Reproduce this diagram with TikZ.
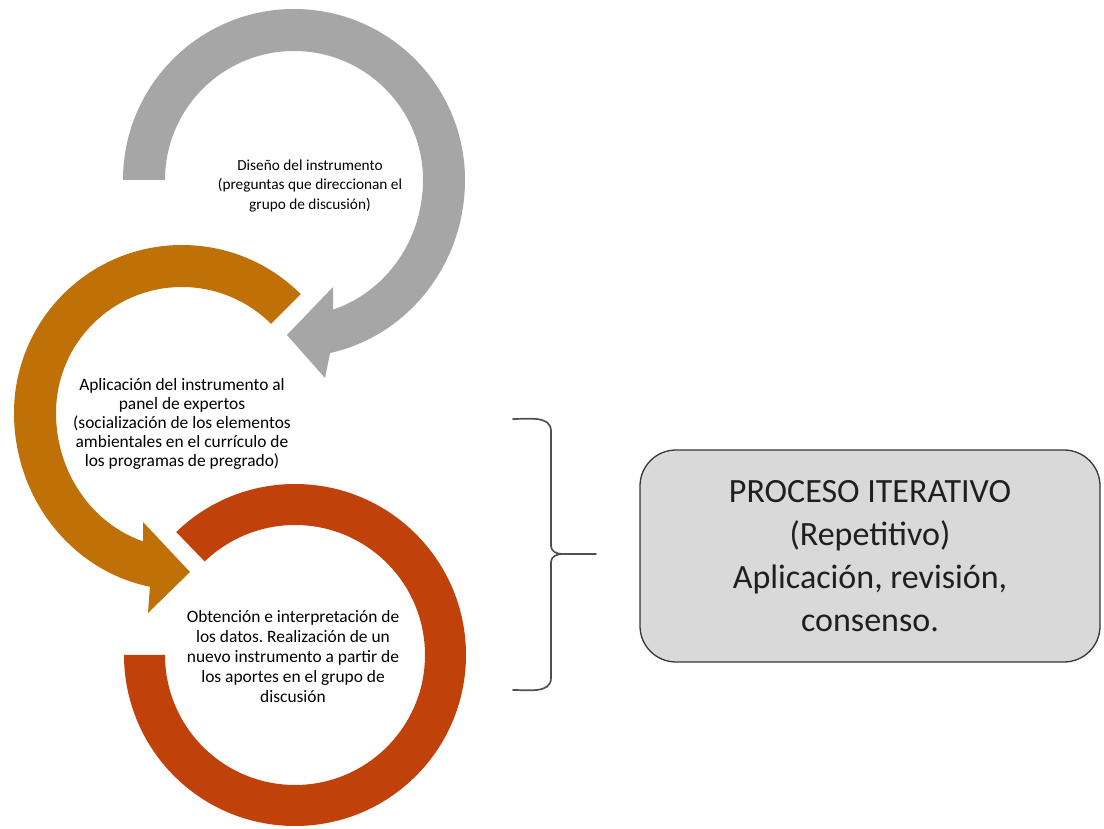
\documentclass[tikz,border=0pt]{standalone}
\usepackage{fontspec}
\setmainfont{Carlito}
\usetikzlibrary{calc}
\frenchspacing
\definecolor{ringgray}{RGB}{166,166,166}
\definecolor{ringorange}{RGB}{191,112,6}
\definecolor{ringred}{RGB}{192,66,10}
\definecolor{boxfill}{RGB}{217,217,217}
\definecolor{boxline}{RGB}{55,55,55}
\definecolor{bracecol}{RGB}{80,80,80}
\begin{document}
\begin{tikzpicture}[x=1pt,y=1pt,
  ringtext/.style={align=center, text=black, inner sep=0pt},
  bracestyle/.style={draw=bracecol, line width=1.7pt, line cap=round, line join=round},
  summarybox/.style={draw=boxline, fill=boxfill, line width=1.3pt, rounded corners=36pt,
    minimum width=460pt, minimum height=212pt, align=center,
    font=\fontsize{34}{43}\selectfont, text=black!88}]
\useasboundingbox (0,0) rectangle (1104,828);
\fill[white] (0,0) rectangle (1104,828);

% centres of the three rings
\coordinate (cg) at (294,648);
\coordinate (co) at (182,415);
\coordinate (cr) at (295,173);

% gray ring with arrowhead
\fill[ringgray] ($(cg)+(180:171pt)$) arc[start angle=180, end angle=0, radius=171pt]
  arc[start angle=0, end angle=-77.8, x radius=171pt, y radius=177pt]
  -- (325,450) -- (287,493) -- (333,541)
  -- ($(cg)+(-72.4:129pt and 136pt)$)
  arc[start angle=-72.4, end angle=0, x radius=129pt, y radius=136pt]
  arc[start angle=0, end angle=180, radius=129pt] -- cycle;

% orange ring with arrowhead
\fill[ringorange] ($(co)+(45:168pt)$) arc[start angle=45, end angle=180, radius=168pt]
  arc[start angle=180, end angle=259, x radius=168pt, y radius=177pt]
  -- (148,215) -- (190,256) -- (143,306)
  -- ($(co)+(252:126pt and 135pt)$)
  arc[start angle=252, end angle=180, x radius=126pt, y radius=135pt]
  arc[start angle=180, end angle=45, radius=126pt] -- cycle;

% red ring
\fill[ringred] ($(cr)+(134:171pt)$) arc[start angle=134, end angle=-180, radius=171pt]
  -- ($(cr)+(180:130pt)$) arc[start angle=-180, end angle=134, radius=130pt] -- cycle;

% texts
\node[ringtext, font=\fontsize{15.3}{19.5}\selectfont] (tgray) at (310,642) {Diseño del instrumento\\(preguntas que direccionan el\\grupo de discusión)};
\node[ringtext, font=\fontsize{17.4}{18.8}\selectfont] (torange) at (182,404) {Aplicación del instrumento al\\panel de expertos\\(socialización de los elementos\\ambientales en el currículo de\\los programas de pregrado)};
\node[ringtext, font=\fontsize{17.4}{20}\selectfont] (tred) at (293,171) {Obtención e interpretación de\\los datos. Realización de un\\nuevo instrumento a partir de\\los aportes en el grupo de\\discusión};

% brace
\coordinate (btip) at (562,274);
\coordinate (bend) at (596,274);
\draw[bracestyle] (513,409) to[out=0,in=90] (551,397) -- (551,282) to[out=-90,in=180] (btip) -- (bend);
\draw[bracestyle] (513,138) to[out=0,in=-90] (551,150) -- (551,266) to[out=90,in=180] (btip);

% summary box
\node[summarybox] (box) at (870,272) {PROCESO ITERATIVO\\(Repetitivo)\\Aplicación, revisión,\\consenso.};
\end{tikzpicture}
\end{document}
